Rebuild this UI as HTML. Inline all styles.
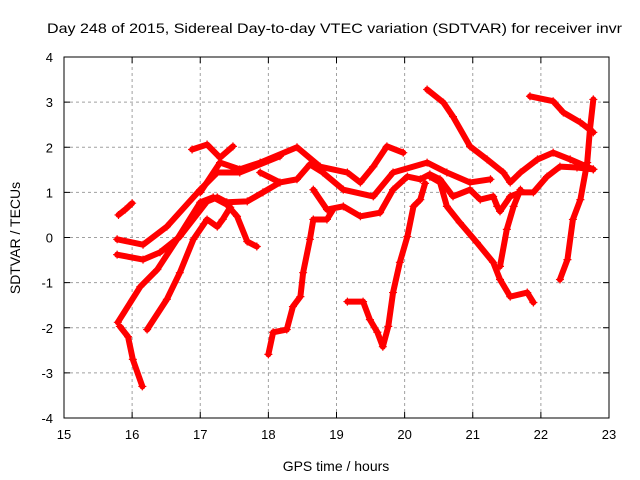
<!DOCTYPE html>
<html><head><meta charset="utf-8"><style>
body{margin:0;background:#fff}
svg{display:block;font-family:"Liberation Sans",sans-serif}
</style></head><body>
<svg id="chart" width="640" height="480" viewBox="0 0 640 480">
<rect x="0" y="0" width="640" height="480" fill="#fff"/>
<text x="47" y="33" font-size="14" textLength="575" lengthAdjust="spacingAndGlyphs">Day 248 of 2015, Sidereal Day-to-day VTEC variation (SDTVAR) for receiver invr</text>
<text x="336" y="471" font-size="14" text-anchor="middle">GPS time / hours</text>
<text transform="translate(20,238) rotate(-90)" font-size="14" text-anchor="middle">SDTVAR / TECUs</text>
<g id="grid"></g><g id="series"></g><g id="axes"></g>
</svg>
<script>
const xTicks=[15,16,17,18,19,20,21,22,23];
const yTicks=[-4,-3,-2,-1,0,1,2,3,4];
const track1=[[15.8,0.5],[15.9,0.62],[16.0,0.76]];
const track2=[[15.78,-0.04],[16.16,-0.16],[16.51,0.24],[17.0,1.06],[17.25,1.44],[17.58,1.44],[18.17,1.8]];
const track3=[[15.78,-0.38],[16.16,-0.49],[16.41,-0.33],[16.7,0.02],[17.1,0.8],[17.25,0.89],[17.39,0.78],[17.69,0.8],[17.92,1.0],[18.17,1.22]];
const track4=[[15.79,-1.88],[16.12,-1.09],[16.37,-0.71],[16.66,-0.04],[17.0,0.78],[17.19,0.89],[17.39,0.73],[17.54,0.47],[17.69,-0.09],[17.83,-0.2]];
const track5=[[16.22,-2.04],[16.51,-1.37],[16.7,-0.78],[16.9,-0.04],[17.1,0.4],[17.25,0.24],[17.33,0.4],[17.44,0.67]];
const track6=[[16.88,1.95],[17.1,2.06],[17.29,1.77],[17.48,2.02]];
const track7=[[17.0,1.0],[17.29,1.66],[17.58,1.51],[17.88,1.66],[18.42,2.0],[18.76,1.57],[19.16,1.44],[19.35,1.22],[19.54,1.57],[19.74,2.02],[19.98,1.88]];
const track8=[[17.88,1.44],[18.17,1.22],[18.42,1.29],[18.61,1.62],[18.8,1.44],[19.1,1.06],[19.54,0.91],[19.83,1.44],[20.33,1.66],[20.62,1.44],[20.96,1.22],[21.26,1.29]];
const track9=[[18.66,1.06],[18.86,0.62],[19.1,0.69],[19.35,0.47],[19.64,0.55],[19.83,1.06],[20.04,1.35],[20.23,1.29],[20.37,1.4],[20.52,1.29],[20.71,0.91],[20.96,1.06],[21.11,0.84],[21.3,0.91],[21.36,0.69],[21.4,0.58],[21.55,0.91],[21.7,1.0],[21.89,1.0],[22.09,1.35],[22.28,1.57],[22.53,1.55],[22.77,1.51]];
const track10=[[15.82,-1.97],[15.94,-2.2],[16.01,-2.7],[16.15,-3.3]];
const track11=[[18.0,-2.59],[18.07,-2.1],[18.27,-2.04],[18.36,-1.53],[18.47,-1.31],[18.51,-0.78],[18.61,-0.04],[18.66,0.4],[18.86,0.4],[18.95,0.62]];
const track12=[[19.16,-1.42],[19.39,-1.42],[19.49,-1.82],[19.6,-2.1],[19.68,-2.42],[19.76,-1.97],[19.83,-1.22],[19.93,-0.55],[20.04,0.02],[20.13,0.69],[20.23,0.84],[20.3,1.2]];
const track13=[[20.33,3.28],[20.57,2.99],[20.71,2.68],[20.96,2.02],[21.21,1.73],[21.45,1.44],[21.55,1.22],[21.7,1.44],[21.95,1.73],[22.18,1.88],[22.43,1.73],[22.77,1.51]];
const track14=[[21.84,3.13],[22.18,3.02],[22.33,2.77],[22.58,2.55],[22.77,2.33]];
const track15=[[22.28,-0.93],[22.39,-0.49],[22.47,0.4],[22.58,0.84],[22.68,1.66],[22.72,2.39],[22.77,3.06]];
const track16=[[20.37,1.35],[20.52,1.22],[20.62,0.69],[20.81,0.33],[21.06,-0.11],[21.3,-0.55],[21.4,-0.93],[21.55,-1.31],[21.8,-1.22],[21.89,-1.44]];
const track17=[[21.4,-0.64],[21.5,0.18],[21.6,0.69],[21.7,1.06]];
const tracks=[track1,track2,track3,track4,track5,track6,track7,track8,track9,track10,track11,track12,track13,track14,track15,track16,track17];

const X0=64,X1=609,Y0=418,Y1=57;
const sx=v=>X0+(v-15)/8*(X1-X0);
const sy=v=>Y0-(v+4)/8*(Y0-Y1);
const NS='http://www.w3.org/2000/svg';
function mk(tag,attrs,parent){const e=document.createElementNS(NS,tag);for(const k in attrs)e.setAttribute(k,attrs[k]);parent.appendChild(e);return e;}
const grid=document.getElementById('grid'),axes=document.getElementById('axes'),ser=document.getElementById('series');
xTicks.forEach(t=>{
  if(t>15&&t<23){const l=mk('line',{x1:sx(t),x2:sx(t),y1:Y0,y2:Y1,stroke:'#a0a0a0','stroke-dasharray':'3,3'},grid);
  
  }
  const tk=mk('path',{d:`M${sx(t)},${Y0}v-6M${sx(t)},${Y1}v6`,stroke:'#000'},axes);
  
  
  const tx=mk('text',{x:sx(t),y:Y0+21,'font-size':13,'text-anchor':'middle'},axes);tx.textContent=t;
  
  
});
yTicks.forEach(t=>{
  if(t>-4&&t<4){const l=mk('line',{x1:X0,x2:X1,y1:sy(t),y2:sy(t),stroke:'#a0a0a0','stroke-dasharray':'3,3'},grid);
  
  }
  const tk=mk('path',{d:`M${X0},${sy(t)}h6M${X1},${sy(t)}h-6`,stroke:'#000'},axes);
  
  
  const tx=mk('text',{x:X0-11,y:sy(t)+5,'font-size':13,'text-anchor':'end'},axes);tx.textContent=t;
  
  
});
const frame=mk('rect',{x:X0,y:Y1,width:X1-X0,height:Y0-Y1,fill:'none',stroke:'#000'},axes);


tracks.forEach((tr,i)=>{
  const p=mk('polyline',{points:tr.map(d=>sx(d[0])+','+sy(d[1])).join(' '),fill:'none',stroke:'#ff0000','stroke-width':6,'stroke-linejoin':'round','stroke-linecap':'round'},ser);
  
  
  tr.forEach(d=>{
    const m=mk('path',{d:`M${sx(d[0])-4},${sy(d[1])}h8M${sx(d[0])},${sy(d[1])-4}v8`,stroke:'#ff0000','stroke-width':1.2},ser);
    
    
  });
});
</script>
</body></html>
